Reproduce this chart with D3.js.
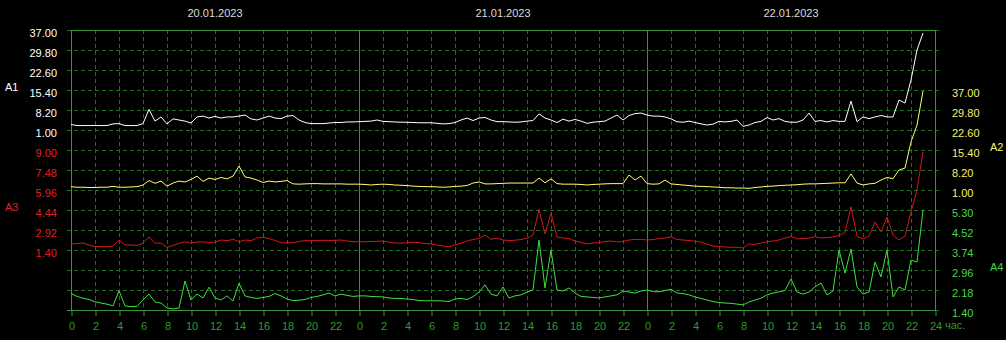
<!DOCTYPE html>
<html>
<head>
<meta charset="utf-8">
<script src="https://cdn.jsdelivr.net/npm/d3@7"></script>
<style>
  body { margin: 0; background: #000; }
  svg { display: block; }
  text { font-family: "Liberation Sans", Arial, sans-serif; font-size: 11px; }
</style>
</head>
<body>
<script>
// dates shown above each day
const dates = ["20.01.2023", "21.01.2023", "22.01.2023"];

// samples every half hour from 20.01 00:00
const stepHours = 0.5;

// axis tick values
const a1Ticks = [1.00, 8.20, 15.40, 22.60, 29.80, 37.00];
const a2Ticks = [1.00, 8.20, 15.40, 22.60, 29.80, 37.00];
const a3Ticks = [1.40, 2.92, 4.44, 5.96, 7.48, 9.00];
const a4Ticks = [1.40, 2.18, 2.96, 3.74, 4.52, 5.30];
const hourTicks = [0, 2, 4, 6, 8, 10, 12, 14, 16, 18, 20, 22, 24, 26, 28, 30, 32, 34, 36, 38, 40, 42, 44, 46, 48, 50, 52, 54, 56, 58, 60, 62, 64, 66, 68, 70, 72];

// A1 (white)
const a1Series = [
  3.0, 2.6, 2.6, 2.6, 2.6, 2.6, 2.6, 3.2, 3.3, 2.6, 2.6, 2.6, 3.3, 8.4, 4.2, 5.7, 3.2, 5.0, 4.6, 4.2, 3.5, 5.7, 6.0, 5.3,
  5.9, 5.3, 5.7, 5.7, 6.0, 6.4, 5.0, 4.6, 5.3, 6.0, 5.3, 5.1, 6.0, 6.2, 4.6, 3.7, 3.3, 3.3, 3.3, 3.5, 3.7, 3.7, 3.9, 3.9,
  4.0, 4.1, 4.2, 4.6, 4.1, 4.0, 3.9, 3.8, 3.8, 3.7, 3.6, 3.6, 3.6, 3.4, 3.2, 3.3, 3.7, 4.6, 5.3, 4.4, 5.3, 5.5, 4.6, 4.0,
  4.0, 3.9, 3.8, 3.9, 4.2, 4.4, 6.8, 5.3, 4.6, 3.7, 4.9, 4.2, 4.8, 4.2, 3.4, 3.8, 4.0, 4.2, 5.3, 6.4, 4.6, 6.2, 6.9, 7.1,
  6.4, 6.0, 6.0, 5.7, 5.0, 4.0, 3.8, 4.2, 3.7, 3.2, 2.8, 3.1, 4.1, 3.9, 4.1, 4.6, 2.3, 2.8, 3.7, 4.1, 5.5, 4.6, 5.1, 4.1,
  3.8, 3.8, 4.6, 7.1, 4.1, 4.4, 3.9, 4.4, 4.1, 4.1, 11.4, 4.0, 5.7, 5.1, 5.7, 6.2, 5.7, 5.7, 11.8, 10.7, 19.0, 29.8, 35.9
];
// A2 (yellow)
const a2Series = [
  2.2, 2.0, 2.0, 1.9, 1.9, 2.0, 2.0, 2.3, 2.0, 2.0, 2.1, 2.2, 2.8, 4.4, 3.4, 4.2, 2.4, 3.5, 4.2, 3.9, 4.8, 6.0, 4.1, 5.3,
  4.8, 5.5, 5.0, 6.0, 9.6, 5.7, 5.3, 4.6, 3.7, 4.2, 3.9, 4.1, 4.4, 3.2, 3.1, 3.2, 3.3, 3.3, 3.2, 3.2, 3.2, 3.2, 3.1, 3.1,
  3.1, 3.0, 2.8, 3.0, 3.1, 3.0, 2.8, 2.7, 2.6, 2.4, 2.3, 2.2, 2.2, 2.1, 2.0, 2.1, 2.3, 2.4, 2.6, 3.5, 3.9, 3.2, 3.2, 3.3,
  3.4, 3.5, 3.5, 3.5, 3.5, 3.5, 5.3, 3.6, 5.0, 3.3, 3.1, 3.1, 3.1, 3.0, 2.8, 3.0, 3.1, 3.2, 3.3, 3.3, 3.3, 6.4, 4.6, 6.0,
  3.3, 3.1, 3.2, 4.6, 3.2, 3.0, 2.8, 2.6, 2.4, 2.3, 2.2, 2.1, 2.0, 1.8, 1.8, 1.7, 1.7, 1.6, 1.9, 2.1, 2.3, 2.4, 2.6, 2.7,
  2.8, 2.9, 3.1, 3.2, 3.2, 3.3, 3.4, 3.5, 3.6, 3.6, 6.8, 3.5, 2.8, 3.2, 3.4, 4.6, 5.5, 5.1, 8.2, 8.9, 18.3, 24.4, 36.6
];
// A3 (red)
const a3Series = [
  1.86, 1.89, 1.93, 1.78, 1.67, 1.65, 1.65, 1.70, 2.16, 1.78, 1.78, 1.74, 1.93, 2.39, 1.91, 1.93, 1.59, 1.74, 1.91, 2.01, 1.93, 2.01, 2.01, 1.97,
  2.01, 2.16, 2.11, 2.21, 2.03, 2.16, 2.11, 2.31, 2.37, 2.27, 2.12, 1.95, 1.95, 1.95, 2.05, 2.11, 2.11, 2.11, 2.14, 2.12, 2.14, 2.16, 2.08, 2.03,
  2.03, 2.03, 2.05, 2.06, 2.08, 2.01, 1.93, 1.91, 1.95, 1.99, 1.97, 1.89, 1.86, 1.78, 1.70, 1.65, 1.78, 1.93, 2.08, 2.20, 2.27, 2.54, 2.21, 2.29,
  2.16, 2.12, 2.14, 2.20, 2.29, 2.54, 4.49, 2.62, 4.19, 2.39, 2.31, 2.27, 2.08, 1.97, 1.86, 1.93, 1.97, 2.05, 2.08, 2.01, 2.05, 2.16, 2.20, 2.21,
  2.16, 2.20, 2.26, 2.31, 2.41, 2.20, 2.16, 2.12, 2.06, 2.01, 1.86, 1.70, 1.67, 1.63, 1.61, 1.61, 1.55, 1.86, 1.82, 1.93, 2.03, 2.08, 2.16, 2.31,
  2.43, 2.24, 2.27, 2.31, 2.41, 2.31, 2.35, 2.39, 2.50, 2.73, 4.69, 2.43, 2.24, 2.46, 3.53, 2.77, 3.91, 2.54, 2.16, 2.46, 4.29, 5.96, 8.85
];
// A4 (green)
const a4Series = [
  2.05, 1.93, 1.86, 1.81, 1.72, 1.67, 1.63, 1.56, 2.15, 1.56, 1.53, 1.54, 1.79, 2.02, 1.71, 1.67, 1.48, 1.44, 1.48, 2.53, 1.79, 2.02, 1.87, 2.29,
  1.87, 1.79, 1.95, 1.75, 2.44, 1.95, 1.89, 1.85, 1.89, 1.93, 2.04, 1.95, 1.83, 1.77, 1.78, 1.81, 1.89, 1.93, 1.99, 2.06, 1.95, 2.02, 1.97, 1.93,
  1.95, 1.95, 1.93, 1.92, 1.91, 1.87, 1.85, 1.85, 1.83, 1.81, 1.77, 1.76, 1.76, 1.76, 1.75, 1.73, 1.83, 1.85, 1.81, 1.92, 2.10, 2.38, 2.02, 1.95,
  2.30, 1.87, 1.95, 1.99, 2.10, 2.18, 4.13, 2.26, 3.74, 2.18, 2.14, 2.26, 2.06, 1.93, 1.91, 1.89, 1.87, 1.91, 1.95, 1.99, 2.14, 2.10, 2.06, 2.14,
  2.18, 2.12, 2.11, 2.16, 2.21, 2.06, 2.04, 1.99, 1.91, 1.85, 1.79, 1.73, 1.69, 1.67, 1.66, 1.63, 1.60, 1.71, 1.79, 1.86, 1.99, 2.06, 2.11, 2.16,
  2.61, 2.10, 2.02, 2.10, 2.30, 2.45, 1.99, 2.14, 3.74, 2.84, 3.78, 2.30, 2.02, 2.10, 3.27, 2.69, 3.74, 1.91, 2.30, 2.18, 3.35, 3.27, 5.30
];

const width = 1006, height = 340;
const plot = { left: 71, right: 935, top: 30, bottom: 310 };

const gridColor = "#1f6f1f",
      frameColor = "#3a923a",
      hourColor = "#2f9a2f";

const svg = d3.select("body").append("svg")
  .attr("width", width).attr("height", height)
  .style("background", "#000");

// scales
const x = d3.scaleLinear().domain([0, 72]).range([plot.left, plot.right]);
const yA1 = d3.scaleLinear().domain([1, 37]).range([130, 30]);
const yA2 = d3.scaleLinear().domain([1, 37]).range([190, 90]);
const yA3 = d3.scaleLinear().domain([1.4, 9]).range([250, 150]);
const yA4 = d3.scaleLinear().domain([1.4, 5.3]).range([310, 210]);
const rowY = d3.scaleLinear().domain([0, 14]).range([plot.top, plot.bottom]);

// horizontal dashed grid, a bit wider than the frame
svg.append("g").selectAll("line").data(d3.range(0, 15)).join("line")
  .attr("x1", plot.left - 4).attr("x2", plot.right + 6)
  .attr("y1", d => rowY(d) + 0.5).attr("y2", d => rowY(d) + 0.5)
  .attr("stroke", gridColor).attr("stroke-dasharray", "4,3");

// vertical dashed grid every 2 hours
svg.append("g").selectAll("line").data(hourTicks.filter(h => h % 24 !== 0)).join("line")
  .attr("x1", d => x(d) + 0.5).attr("x2", d => x(d) + 0.5)
  .attr("y1", plot.top).attr("y2", plot.bottom)
  .attr("stroke", gridColor).attr("stroke-dasharray", "4,3");

// day separators
svg.append("g").selectAll("line").data([24, 48]).join("line")
  .attr("x1", d => x(d) + 0.5).attr("x2", d => x(d) + 0.5)
  .attr("y1", plot.top).attr("y2", plot.bottom)
  .attr("stroke", frameColor);

// frame
svg.append("rect")
  .attr("x", plot.left + 0.5).attr("y", plot.top + 0.5)
  .attr("width", plot.right - plot.left).attr("height", plot.bottom - plot.top)
  .attr("fill", "none").attr("stroke", frameColor);
svg.append("line")
  .attr("x1", plot.left - 4).attr("x2", plot.right)
  .attr("y1", plot.bottom + 0.5).attr("y2", plot.bottom + 0.5)
  .attr("stroke", frameColor);

// bottom hour axis
const xAxis = d3.axisBottom(x).tickValues(hourTicks).tickSize(5).tickPadding(6)
  .tickFormat(d => d === 72 ? "24" : d % 24);
const gx = svg.append("g").attr("transform", `translate(0.5,${plot.bottom + 1})`).call(xAxis);
gx.select(".domain").remove();
gx.selectAll("line").attr("stroke", frameColor);
gx.selectAll("text").attr("fill", hourColor).attr("font-size", 11)
  .attr("font-family", "Liberation Sans, Arial, sans-serif");
svg.append("text").attr("x", 945).attr("y", 329).attr("fill", hourColor).text("час.");

// dates above each day
svg.append("g").selectAll("text").data(dates).join("text")
  .attr("x", (d, i) => x(i * 24 + 12)).attr("y", 17)
  .attr("text-anchor", "middle").attr("fill", "#dcdcdc")
  .text(d => d);

// value axes
function valueAxis(axisFn, scale, ticks, xPos, color) {
  const g = svg.append("g").attr("transform", `translate(${xPos},3)`)
    .call(axisFn(scale).tickValues(ticks).tickSize(0).tickPadding(3).tickFormat(d3.format(".2f")));
  g.select(".domain").remove();
  g.selectAll("text").attr("fill", color).attr("font-size", 11)
    .attr("font-family", "Liberation Sans, Arial, sans-serif");
}
valueAxis(d3.axisLeft, yA1, a1Ticks, 60, "#ffffff");
valueAxis(d3.axisLeft, yA3, a3Ticks, 60, "#e02020");
valueAxis(d3.axisRight, yA2, a2Ticks, 949, "#f4f46a");
valueAxis(d3.axisRight, yA4, a4Ticks, 949, "#45d845");

// series names
const names = [
  { name: "A1", x: 5, y: yA1(15.4) + 1, color: "#ffffff" },
  { name: "A3", x: 5, y: yA3(4.44) + 1, color: "#e02020" },
  { name: "A2", x: 990, y: yA2(15.4) + 1, color: "#f4f46a" },
  { name: "A4", x: 990, y: yA4(2.96) + 1, color: "#45d845" }
];
svg.append("g").selectAll("text").data(names).join("text")
  .attr("x", d => d.x).attr("y", d => d.y).attr("fill", d => d.color)
  .text(d => d.name);

// series lines
const series = [
  { values: a4Series, scale: yA4, color: "#3fe03f" },
  { values: a3Series, scale: yA3, color: "#d01818" },
  { values: a2Series, scale: yA2, color: "#ffff70" },
  { values: a1Series, scale: yA1, color: "#ffffff" }
];
series.forEach(s => {
  const line = d3.line().x((d, i) => x(i * stepHours)).y(d => s.scale(d));
  svg.append("path").datum(s.values)
    .attr("d", line).attr("fill", "none")
    .attr("stroke", s.color).attr("stroke-width", 1)
    .attr("stroke-linejoin", "round");
});
</script>
</body>
</html>
